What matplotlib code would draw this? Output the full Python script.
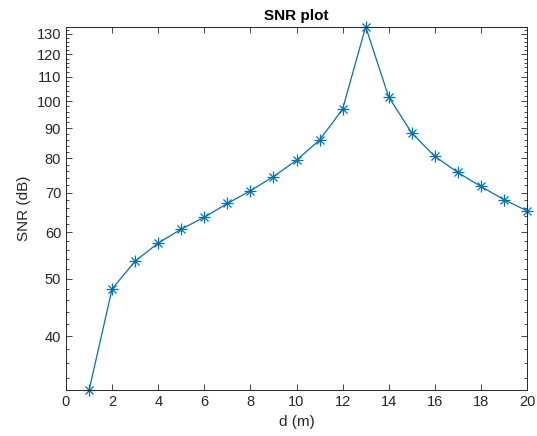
import matplotlib
matplotlib.use("Agg")
import matplotlib.pyplot as plt
from matplotlib.ticker import FixedLocator, FixedFormatter, NullFormatter

# distances (m) and SNR values (dB)
d = [1, 2, 3, 4, 5, 6, 7, 8, 9, 10, 11, 12, 13, 14, 15, 16, 17, 18, 19, 20]
snr = [32.4, 48.1, 53.6, 57.5, 60.7, 63.6, 67.1, 70.5, 74.5, 79.4,
       85.9, 96.9, 133.6, 101.6, 88.3, 80.6, 75.7, 71.7, 68.1, 65.2]

y_ticks = [40, 50, 60, 70, 80, 90, 100, 110, 120, 130]
x_ticks = [0, 2, 4, 6, 8, 10, 12, 14, 16, 18, 20]

plt.rcParams['font.family'] = ['Liberation Sans', 'DejaVu Sans']
dark = '#262626'
blue = '#0072BD'

fig = plt.figure(figsize=(5.37, 4.36), dpi=100)
ax = fig.add_axes([66 / 537, (436 - 390.3) / 436, (527 - 66) / 537, (390.3 - 26.7) / 436])

# MATLAB-style asterisk marker: a plus and a cross on top of each other
ax.plot(d, snr, '-', color=blue, linewidth=0.9, marker='+', markersize=8,
        markeredgewidth=0.9, clip_on=False)
ax.plot(d, snr, linestyle='none', color=blue, marker='x', markersize=6,
        markeredgewidth=0.9, clip_on=False)

ax.set_yscale('log')
ax.set_xlim(0, 20)
ax.set_ylim(min(snr), max(snr))

ax.yaxis.set_major_locator(FixedLocator(y_ticks))
ax.yaxis.set_major_formatter(FixedFormatter([str(t) for t in y_ticks]))
minors = [v for v in range(32, 136, 2) if v not in y_ticks]
ax.yaxis.set_minor_locator(FixedLocator(minors))
ax.yaxis.set_minor_formatter(NullFormatter())
ax.set_xticks(x_ticks)

ax.tick_params(which='both', direction='in', top=True, right=True, colors=dark,
               labelsize=10.5, width=0.6)
ax.tick_params(which='major', length=4.5)
ax.tick_params(which='minor', length=2.5)
for s in ax.spines.values():
    s.set_color(dark)
    s.set_linewidth(0.7)

ax.set_xlabel('d (m)', fontsize=11, color=dark)
ax.set_ylabel('SNR (dB)', fontsize=11, color=dark)
ax.set_title('SNR plot', fontsize=11, fontweight='bold', color='black', pad=5)

fig.savefig('out.png', dpi=100)
